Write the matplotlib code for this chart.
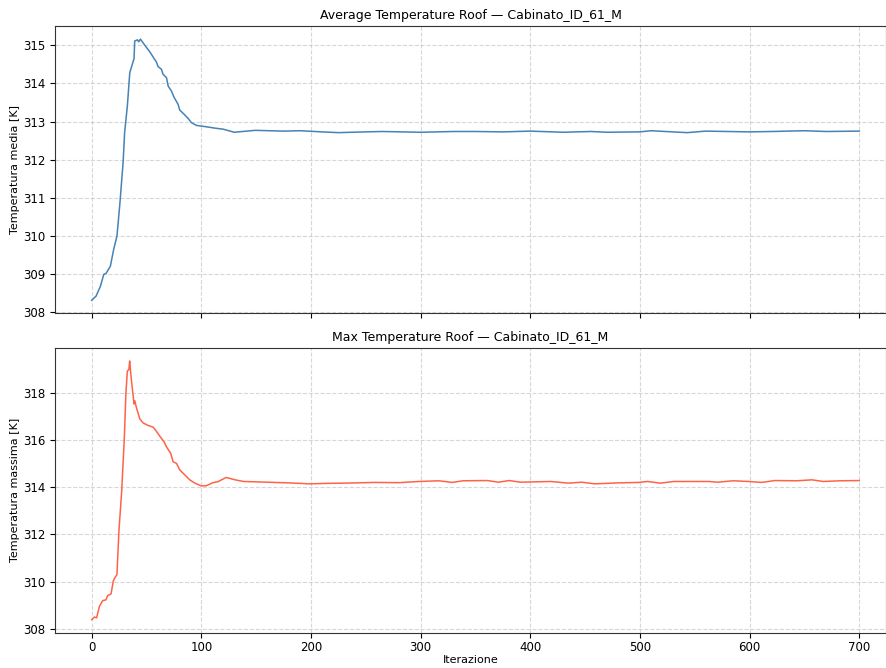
import numpy as np
import matplotlib
matplotlib.use('Agg')
import matplotlib.pyplot as plt

# Temperatura media (tetto) - letture dal grafico
it_avg = [0, 4, 8, 11, 13, 17, 20, 23, 25.5, 28.6, 30, 32.5, 34.7, 38.6, 39.2, 41.7, 42.9,
          44.4, 48.4, 52.9, 56.9, 59, 60.5, 63.6, 65, 68.2, 69.7, 72.7, 75.2, 78.8, 80.3,
          84.3, 88, 91, 95.5, 103, 112, 120, 130, 149, 175, 190,
          210, 225, 250, 265, 300, 330, 350, 375, 400, 430, 455, 470, 500, 510, 543,
          560, 600, 620, 650, 670, 700]
t_avg = [308.32, 308.43, 308.69, 309.0, 309.02, 309.21, 309.65, 310.0, 310.79, 311.92,
         312.71, 313.41, 314.28, 314.65, 315.11, 315.14, 315.09, 315.16, 315.0, 314.83,
         314.65, 314.56, 314.44, 314.37, 314.24, 314.15, 313.93, 313.80, 313.63, 313.45,
         313.30, 313.19, 313.08, 312.97, 312.90, 312.87, 312.83, 312.80,
         312.72, 312.77, 312.75, 312.76, 312.73, 312.71, 312.73, 312.74, 312.72, 312.74,
         312.74, 312.73, 312.75, 312.72, 312.74, 312.72, 312.73, 312.76, 312.71, 312.75,
         312.73, 312.74, 312.76, 312.74, 312.75]

# Temperatura massima (tetto)
it_max = [0, 2.4, 4.5, 7, 10, 13, 14.5, 17.6, 19.7, 21.2, 23, 24.8, 27.3, 29.7, 31.2,
          32.5, 33.9, 34.6, 36.1, 38.6, 39.3, 40.7, 43.8, 46.8, 51.4, 56, 59, 62, 66,
          68.2, 72.1, 74.2, 77.3, 80.3, 84.9, 89.4, 94, 100, 104.5, 110.6, 115, 122.6, 131.8,
          138.6, 160, 180, 198.6, 215, 230.6, 258.6, 280, 298.7, 316.7, 328.7, 338.7,
          360.8, 370.8, 380.8, 390.8, 418.8, 434.8, 446.8, 458.8, 480, 498.9, 506.9,
          518.9, 530.9, 550.9, 562.9, 570.9, 584.9, 599, 611, 623, 643, 657, 667, 683, 700]
t_max = [308.38, 308.49, 308.46, 308.94, 309.19, 309.22, 309.40, 309.47, 310.03, 310.17,
         310.29, 312.14, 313.82, 316.06, 318.03, 318.94, 319.01, 319.37, 318.59, 317.54,
         317.68, 317.40, 316.91, 316.74, 316.63, 316.56, 316.38, 316.18, 315.93, 315.72,
         315.44, 315.09, 315.02, 314.74, 314.53, 314.32, 314.18, 314.06, 314.07, 314.20,
         314.24, 314.42, 314.31, 314.25, 314.22, 314.19, 314.15, 314.17, 314.18, 314.21,
         314.20, 314.25, 314.28, 314.21, 314.28, 314.29, 314.22, 314.29, 314.22, 314.25,
         314.18, 314.22, 314.15, 314.19, 314.21, 314.25, 314.18, 314.25, 314.25, 314.25,
         314.22, 314.28, 314.25, 314.21, 314.29, 314.28, 314.32, 314.25, 314.28, 314.29]

component = 'Cabinato_ID_61_M'

fig = plt.figure(figsize=(8.87, 6.68), dpi=100)
ax1 = fig.add_axes([0.062, 0.531, 0.937, 0.430])
ax2 = fig.add_axes([0.062, 0.053, 0.937, 0.426], sharex=ax1)

for ax in (ax1, ax2):
    for sp in ax.spines.values():
        sp.set_color('#333333')

ax1.plot(it_avg, t_avg, color='steelblue', lw=1.1)
ax1.set_title(f'Average Temperature Roof — {component}', fontsize=9, pad=5)
ax1.set_ylabel('Temperatura media [K]', fontsize=8, labelpad=2)
ax1.grid(True, linestyle='--', alpha=0.5)
ax1.tick_params(labelbottom=False, labelsize=8.5)
ax1.set_xlim(-33.5, 724.5)

ax2.plot(it_max, t_max, color='tomato', lw=1.1)
ax2.set_title(f'Max Temperature Roof — {component}', fontsize=9, pad=5)
ax2.set_ylabel('Temperatura massima [K]', fontsize=8, labelpad=2)
ax2.set_xlabel('Iterazione', fontsize=8, labelpad=1)
ax2.grid(True, linestyle='--', alpha=0.5)
ax2.tick_params(labelsize=8.5)
ax2.tick_params(axis='x', pad=2.5)

plt.savefig('out.png', dpi=100)
plt.close()
